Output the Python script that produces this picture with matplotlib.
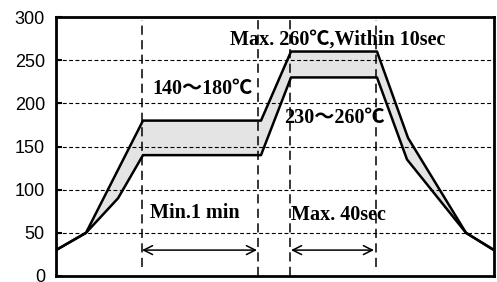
import numpy as np
import matplotlib
matplotlib.use('Agg')
import matplotlib.pyplot as plt

# reflow profile, x = time (arbitrary units), y = temperature
upper_x = [0, 30, 87, 205, 235, 321, 352, 410, 438]
upper_y = [30, 50, 180, 180, 260, 260, 160, 50, 30]
lower_x = [0, 30, 62, 87, 205, 235, 321, 351, 410, 438]
lower_y = [30, 50, 90, 140, 140, 230, 230, 135, 50, 30]

marker_x = [86, 202, 234, 320]
yticks = [0, 50, 100, 150, 200, 250, 300]

serif = ['Liberation Serif', 'Noto Sans CJK JP']

fig = plt.figure(figsize=(4.97, 2.82), dpi=100)
ax = fig.add_axes([56 / 497, 6 / 282, 438 / 497, 259 / 282])
ax.set_xlim(0, 438)
ax.set_ylim(0, 300)

# grey band between the two limits
ax.fill(upper_x + lower_x[::-1], upper_y + lower_y[::-1],
        facecolor='#e4e4e4', edgecolor='none', zorder=1)
ax.plot(upper_x, upper_y, c='black', linewidth=1.8, zorder=3)
ax.plot(lower_x, lower_y, c='black', linewidth=1.8, zorder=3)

# horizontal dashed grid
for t in yticks[1:-1]:
    ax.axhline(t, color='black', linewidth=0.8, dashes=(3.5, 2.2), zorder=2)

# vertical dashed markers
for i, x in enumerate(marker_x):
    bottom = 10 if i in (0, 3) else 0
    ax.plot([x, x], [bottom, 297], color='black', linewidth=1.1,
            dashes=(6, 3.5), zorder=2)

# duration arrows
arrow = dict(arrowstyle='<->', color='black', lw=1.1, mutation_scale=16,
             shrinkA=0, shrinkB=0)
ax.annotate('', xy=(86, 30), xytext=(201, 30), arrowprops=arrow)
ax.annotate('', xy=(235, 30), xytext=(318, 30), arrowprops=arrow)

# labels
kw = dict(family=serif, fontweight='bold', fontsize=14.5, va='center', ha='left', zorder=4)
ax.text(96, 217, '140～180℃', **kw)
ax.text(174, 274, 'Max. 260℃,Within 10sec', **kw)
ax.text(228, 183, '230～260℃', **kw)
ax.text(94, 73, 'Min.1 min', **kw)
ax.text(235, 71, 'Max. 40sec', **kw)

ax.set_xticks([])
ax.set_yticks(yticks)
ax.tick_params(axis='y', direction='in', length=4, width=1.5, pad=8,
               labelsize=13)
for lab in ax.get_yticklabels():
    lab.set_family('Liberation Sans')

for s in ax.spines.values():
    s.set_linewidth(2)

fig.savefig('out.png', dpi=100)
